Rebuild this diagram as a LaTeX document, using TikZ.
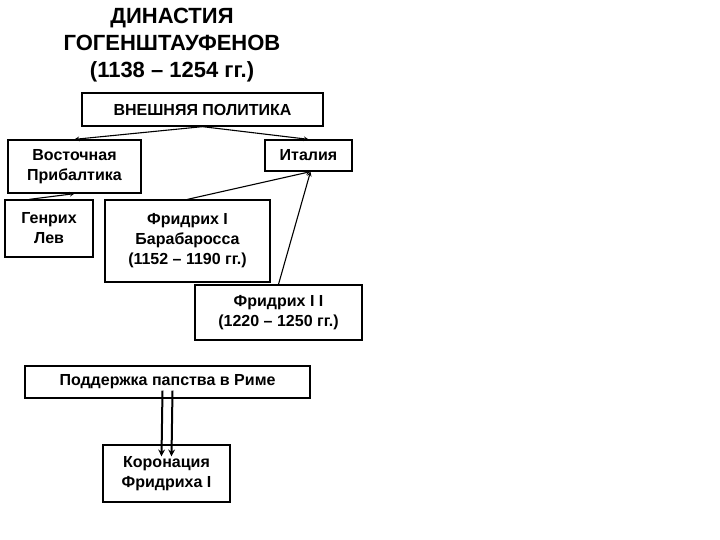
\documentclass[tikz,border=0pt]{standalone}
\usepackage{fontspec}
\setmainfont{Liberation Sans}
\begin{document}
\begin{tikzpicture}[x=1pt,y=-1pt,
  bx/.style={draw,line width=1.3pt,inner sep=0pt,font=\fontsize{16}{20}\selectfont\bfseries,align=center},
  ar/.style={-stealth,line width=1.1pt}]
\useasboundingbox (0,0) rectangle (720,540);
\node[font=\fontsize{22}{27}\selectfont\bfseries,align=center] (t) at (172,45) {ДИНАСТИЯ\\ГОГЕНШТАУФЕНОВ\\(1138 – 1254 гг.)};
\node[bx,minimum width=241,minimum height=33] (vp) at (202.5,109.5) {ВНЕШНЯЯ ПОЛИТИКА};
\node[bx,minimum width=133,minimum height=53] (vb) at (74.5,166.5) {Восточная\\Прибалтика};
\node[bx,minimum width=87,minimum height=31] (it) at (308.5,155.5) {Италия};
\node[bx,minimum width=88,minimum height=57] (gl) at (49,228.5) {Генрих\\Лев};
\node[bx,minimum width=165,minimum height=82] (f1) at (187.5,241) {Фридрих I\\Барабаросса\\(1152 – 1190 гг.)};
\node[bx,minimum width=167,minimum height=55] (f2) at (278.5,312.5) {Фридрих I I\\(1220 – 1250 гг.)};
\node[bx,minimum width=285,minimum height=32] (pp) at (167.5,382) {Поддержка папства в Риме};
\node[bx,minimum width=127,minimum height=57] (kr) at (166.5,473.5) {Коронация\\Фридриха I};
\draw[ar] (vp.south) -- (vb.north);
\draw[ar] (vp.south) -- (it.north);
\draw[ar] (gl.north west) ++(25,0) coordinate (g0) (g0) -- (vb.south);
\draw[ar] (f1.north) -- ([xshift=2]it.south);
\draw[ar] (f2.north) -- ([xshift=2]it.south);
\draw[-stealth,line width=2pt] ([xshift=-5,yshift=8]pp.south) -- ([xshift=-5,yshift=-12]kr.north);
\draw[-stealth,line width=2pt] ([xshift=5,yshift=8]pp.south) -- ([xshift=5,yshift=-12]kr.north);
\end{tikzpicture}
\end{document}
